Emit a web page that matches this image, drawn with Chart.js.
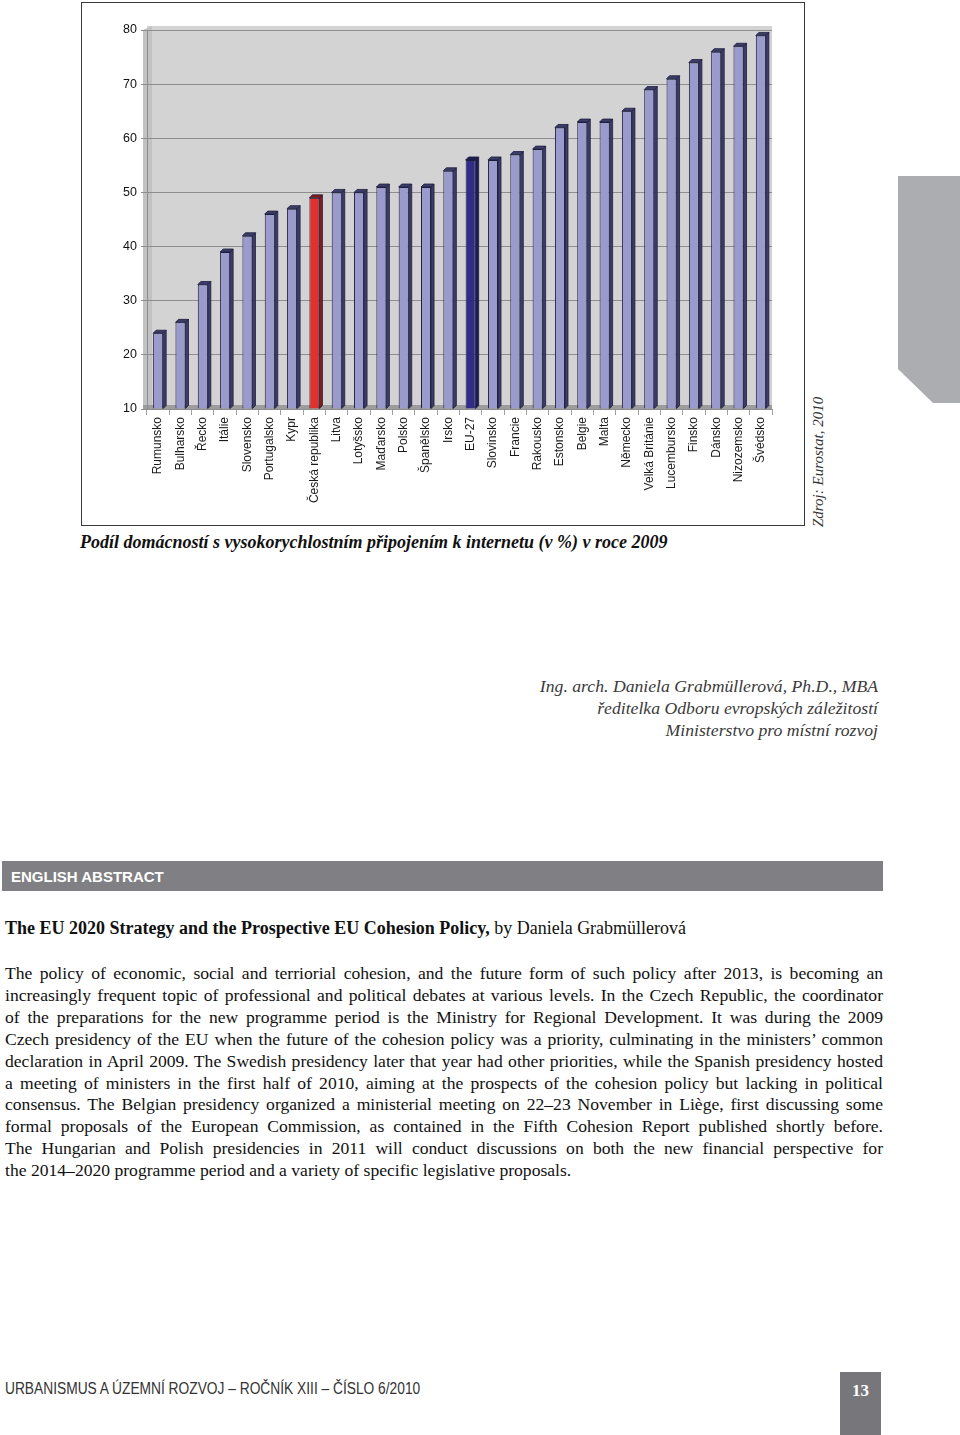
<!DOCTYPE html>
<html>
<head>
<meta charset="utf-8">
<script src="https://cdn.jsdelivr.net/npm/chart.js@4"></script>
<style>
  body { margin: 0; width: 960px; height: 1435px; background: #fff; position: relative; overflow: hidden; }
  .abs { position: absolute; }
  #frame { left: 81px; top: 2px; width: 722px; height: 522px; border: 1.5px solid #3a3a3a; }
  #chartBox { left: 82px; top: 3px; width: 720px; height: 520px; }
  #caption { left: 80px; top: 532px; font: italic bold 18px "Liberation Serif", serif; color: #111; white-space: nowrap; }
  #source { left: 810px; top: 527px; transform: rotate(-90deg); transform-origin: left top;
    font: italic 15px "Liberation Serif", serif; color: #333; white-space: nowrap; line-height: 17px; }
  #tab { left: 898px; top: 176px; width: 62px; height: 227px; background: #acadb0;
    clip-path: polygon(0 0, 100% 0, 100% 100%, 35px 100%, 0 193px); }
  #author { right: 82px; top: 675px; text-align: right; font: italic 17.7px "Liberation Serif", serif; color: #3a3a3a; line-height: 22px; }
  #abstractBar { left: 2px; top: 861px; width: 881px; height: 30px; background: #808084; color: #fff;
    font: bold 15px "Liberation Sans Narrow", "Liberation Sans", sans-serif; line-height: 31px; box-sizing: border-box; padding-left: 9px; }
  #title { left: 5px; top: 918px; font: 18px "Liberation Serif", serif; color: #111; white-space: nowrap; }
  #body { left: 5px; top: 963px; width: 878px; font: 17.6px "Liberation Serif", serif; color: #111; line-height: 21.9px; }
  #body div { text-align: justify; text-align-last: justify; white-space: nowrap; }
  #body div.last { text-align-last: left; }
  #footer { left: 5px; top: 1380px; font: 16px "Liberation Sans", sans-serif; color: #333; white-space: nowrap;
    transform: scaleX(0.86); transform-origin: left top; }
  #pageNo { left: 840px; top: 1372px; width: 41px; height: 63px; background: #77777b; color: #fff;
    font: bold 17px "Liberation Serif", serif; text-align: center; line-height: 38px; }
</style>
</head>
<body>
<div id="frame" class="abs"></div>
<div id="chartBox" class="abs"><canvas id="canvas" width="720" height="520"></canvas></div>
<div id="caption" class="abs">Podíl domácností s vysokorychlostním připojením k internetu (v %) v roce 2009</div>
<div id="source" class="abs">Zdroj: Eurostat, 2010</div>
<div id="tab" class="abs"></div>
<div id="author" class="abs">Ing. arch. Daniela Grabmüllerová, Ph.D., MBA<br>ředitelka Odboru evropských záležitostí<br>Ministerstvo pro místní rozvoj</div>
<div id="abstractBar" class="abs">ENGLISH ABSTRACT</div>
<div id="title" class="abs"><b>The EU 2020 Strategy and the Prospective EU Cohesion Policy,</b> by Daniela Grabmüllerová</div>
<div id="body" class="abs">
  <div>The policy of economic, social and terriorial cohesion, and the future form of such policy after 2013, is becoming an</div>
  <div>increasingly frequent topic of professional and political debates at various levels. In the Czech Republic, the coordinator</div>
  <div>of the preparations for the new programme period is the Ministry for Regional Development. It was during the 2009</div>
  <div>Czech presidency of the EU when the future of the cohesion policy was a priority, culminating in the ministers’ common</div>
  <div>declaration in April 2009. The Swedish presidency later that year had other priorities, while the Spanish presidency hosted</div>
  <div>a meeting of ministers in the first half of 2010, aiming at the prospects of the cohesion policy but lacking in political</div>
  <div>consensus. The Belgian presidency organized a ministerial meeting on 22–23 November in Liège, first discussing some</div>
  <div>formal proposals of the European Commission, as contained in the Fifth Cohesion Report published shortly before.</div>
  <div>The Hungarian and Polish presidencies in 2011 will conduct discussions on both the new financial perspective for</div>
  <div class="last">the 2014–2020 programme period and a variety of specific legislative proposals.</div>
</div>
<div id="footer" class="abs">URBANISMUS A ÚZEMNÍ ROZVOJ – ROČNÍK XIII – ČÍSLO 6/2010</div>
<div id="pageNo" class="abs">13</div>

<script>
const countries = [
  "Rumunsko", "Bulharsko", "Řecko", "Itálie", "Slovensko", "Portugalsko", "Kypr",
  "Česká republika", "Litva", "Lotyšsko", "Maďarsko", "Polsko", "Španělsko", "Irsko",
  "EU-27", "Slovinsko", "Francie", "Rakousko", "Estonsko", "Belgie", "Malta",
  "Německo", "Velká Británie", "Lucembursko", "Finsko", "Dánsko", "Nizozemsko", "Švédsko"
];
const shares = [24, 26, 33, 39, 42, 46, 47, 49, 50, 50, 51, 51, 51, 54,
  56, 56, 57, 58, 62, 63, 63, 65, 69, 71, 74, 76, 77, 79];
const yTicks = [10, 20, 30, 40, 50, 60, 70, 80];

const barFill = countries.map((c) =>
  c === "Česká republika" ? "#e3302f" : c === "EU-27" ? "#2e2e8a" : "#9a9acc"
);
const sideFill = countries.map((c) =>
  c === "Česká republika" ? "#8a1a1a" : c === "EU-27" ? "#1c1c55" : "#3c3c6a"
);

// wall, floor and the pseudo 3D faces of the bars
const wallPlugin = {
  id: "wall",
  beforeDraw(chart) {
    const { ctx, chartArea: a } = chart;
    ctx.save();
    ctx.fillStyle = "#d3d3d3";
    ctx.fillRect(a.left, a.top - 4, a.right - a.left, a.bottom - a.top + 4);
    ctx.fillStyle = "#c2c2c2";
    ctx.beginPath();
    ctx.moveTo(a.left - 4, a.top);
    ctx.lineTo(a.left + 5, a.top - 4);
    ctx.lineTo(a.left + 5, a.bottom - 4);
    ctx.lineTo(a.left - 4, a.bottom);
    ctx.closePath();
    ctx.fill();
    ctx.fillStyle = "#9c9c9c";
    ctx.fillRect(a.left - 4, a.bottom - 4, a.right - a.left + 4, 4);
    ctx.restore();
  },
  afterDatasetsDraw(chart) {
    const { ctx, chartArea } = chart;
    const meta = chart.getDatasetMeta(0);
    const d = 3;
    ctx.save();
    meta.data.forEach((bar, i) => {
      const r = bar.x + bar.width / 2;
      const l = bar.x - bar.width / 2;
      const base = Math.min(bar.base, chartArea.bottom);
      ctx.fillStyle = sideFill[i];
      ctx.strokeStyle = "#1e1e3c";
      ctx.lineWidth = 0.8;
      ctx.beginPath();
      ctx.moveTo(r, bar.y);
      ctx.lineTo(r + d, bar.y - d);
      ctx.lineTo(r + d, base - d);
      ctx.lineTo(r, base);
      ctx.closePath();
      ctx.fill();
      ctx.stroke();
      ctx.beginPath();
      ctx.moveTo(l, bar.y);
      ctx.lineTo(l + d, bar.y - d);
      ctx.lineTo(r + d, bar.y - d);
      ctx.lineTo(r, bar.y);
      ctx.closePath();
      ctx.fill();
      ctx.stroke();
    });
    ctx.restore();
  },
};

new Chart(document.querySelector("#canvas").getContext("2d"), {
  type: "bar",
  data: {
    labels: countries,
    datasets: [{
      data: shares,
      base: 10,
      backgroundColor: barFill,
      borderColor: "#1e1e3c",
      borderWidth: 1,
      barPercentage: 0.45,
      categoryPercentage: 1,
    }],
  },
  options: {
    responsive: false,
    animation: false,
    devicePixelRatio: 1,
    layout: { padding: { top: 27, right: 30, bottom: 0, left: 0 } },
    plugins: { legend: { display: false }, tooltip: { enabled: false } },
    scales: {
      x: {
        afterFit: (s) => { s.height = 114; },
        grid: { display: true, drawOnChartArea: false, color: "#a0a0a0", tickLength: 6, offset: true },
        border: { display: false },
        ticks: { minRotation: 90, maxRotation: 90, autoSkip: false, color: "#1a1a1a",
          font: { family: "Liberation Sans", size: 12 }, padding: 2 },
      },
      y: {
        min: 10,
        max: 80,
        afterFit: (s) => { s.width = 65; },
        afterBuildTicks: (s) => { s.ticks = yTicks.map((v) => ({ value: v })); },
        grid: { color: "#8e8e8e", tickLength: 6 },
        border: { color: "#8e8e8e" },
        ticks: { color: "#111", font: { family: "Liberation Sans", size: 12.5 }, padding: 4 },
      },
    },
  },
  plugins: [wallPlugin],
});
</script>
</body>
</html>
